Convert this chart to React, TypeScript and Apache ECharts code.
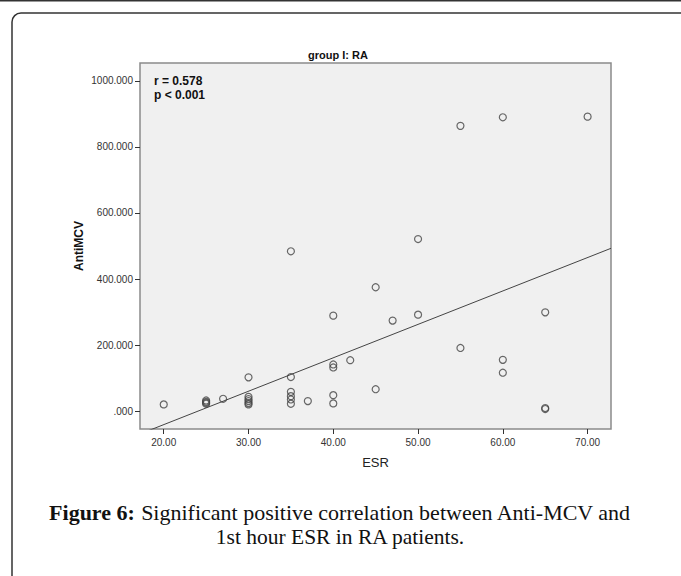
import React, { useEffect, useRef } from "react";
import * as echarts from "echarts";

const esr = [20, 25, 25, 25, 25, 27, 30, 30, 30, 30, 30, 30, 35, 35, 35, 35, 35, 35, 37, 40, 40, 40, 40, 40, 42, 45, 45, 47, 50, 50, 55, 55, 60, 60, 60, 65, 65, 65, 70];
const antiMCV = [20, 32, 28, 25, 22, 37, 102, 43, 36, 30, 24, 20, 484, 103, 58, 45, 35, 22, 30, 289, 141, 132, 48, 23, 154, 375, 66, 274, 521, 292, 864, 191, 890, 155, 116, 299, 9, 6, 892];
const fitLine = [
  [17.2, -69.6],
  [72.76, 493.0],
];
const xTicks = [20, 30, 40, 50, 60, 70];
const yTicks = [0, 200, 400, 600, 800, 1000];
const chartTitle = "group I: RA";
const xName = "ESR";
const yName = "AntiMCV";
const statLines = ["r = 0.578", "p < 0.001"];
const captionBold = "Figure 6:";
const captionLine1 = " Significant positive correlation between Anti-MCV and";
const captionLine2 = "1st hour ESR in RA patients.";

const sans = "'Liberation Sans', Arial, sans-serif";
const serif = "'Liberation Serif', 'Times New Roman', serif";

export default function App() {
  const ref = useRef<HTMLDivElement>(null);
  useEffect(() => {
    if (!ref.current) return;
    const chart = echarts.init(ref.current, undefined, { renderer: "svg" });
    const points = esr.map((x, i) => [x, antiMCV[i]]);
    chart.setOption({
      animation: false,
      backgroundColor: "#ffffff",
      grid: {
        left: 140,
        top: 63,
        right: 70,
        bottom: 147,
        show: true,
        backgroundColor: "#f0f0f0",
        borderColor: "#8a8a8a",
        borderWidth: 1.5,
      },
      xAxis: {
        type: "value",
        min: 17.2,
        max: 72.76,
        name: xName,
        nameLocation: "middle",
        nameGap: 27,
        nameMoveOverlap: false,
        nameTextStyle: { fontFamily: sans, fontSize: 13, color: "#222" },
        axisLine: { show: false, onZero: false },
        splitLine: { show: false },
        axisTick: {
          show: true,
          inside: false,
          length: 5,
          customValues: xTicks,
          lineStyle: { color: "#333", width: 1 },
        },
        axisLabel: {
          customValues: xTicks,
          margin: 8,
          fontFamily: sans,
          fontSize: 10,
          color: "#333",
          formatter: (v: number) => v.toFixed(2),
        },
      },
      yAxis: {
        type: "value",
        min: -54.5,
        max: 1054.5,
        name: yName,
        nameLocation: "middle",
        nameGap: 55,
        nameMoveOverlap: false,
        nameRotate: 90,
        nameTextStyle: { fontFamily: sans, fontSize: 12, fontWeight: "bold", color: "#111" },
        axisLine: { show: false, onZero: false },
        splitLine: { show: false },
        axisTick: {
          show: true,
          inside: false,
          length: 5,
          customValues: yTicks,
          lineStyle: { color: "#333", width: 1 },
        },
        axisLabel: {
          customValues: yTicks,
          margin: 7,
          fontFamily: sans,
          fontSize: 10,
          color: "#333",
          formatter: (v: number) => (v === 0 ? ".000" : v.toFixed(3)),
        },
      },
      series: [
        {
          type: "line",
          data: fitLine,
          showSymbol: false,
          symbol: "none",
          clip: true,
          lineStyle: { color: "#444", width: 1 },
          silent: true,
          z: 2,
        },
        {
          type: "scatter",
          data: points,
          symbol: "circle",
          symbolSize: 7,
          itemStyle: { color: "rgba(0,0,0,0)", borderColor: "#444", borderWidth: 1.2 },
          z: 3,
        },
      ],
      graphic: [
        {
          type: "line",
          shape: { x1: 0, y1: 0.75, x2: 681, y2: 0.75 },
          style: { stroke: "#333", lineWidth: 1.5 },
        },
        {
          type: "rect",
          shape: { x: 12, y: 13, width: 720, height: 620, r: 9 },
          style: { fill: "none", stroke: "#333", lineWidth: 1.5 },
        },
        {
          type: "text",
          x: 338,
          y: 55,
          style: {
            text: chartTitle,
            fontFamily: sans,
            fontSize: 11,
            fontWeight: "bold",
            fill: "#111",
            align: "center",
            verticalAlign: "middle",
          },
        },
        {
          type: "text",
          x: 154,
          y: 81,
          style: {
            text: statLines[0],
            fontFamily: sans,
            fontSize: 12,
            fontWeight: "bold",
            fill: "#111",
            align: "left",
            verticalAlign: "middle",
          },
          z: 10,
        },
        {
          type: "text",
          x: 154,
          y: 95,
          style: {
            text: statLines[1],
            fontFamily: sans,
            fontSize: 12,
            fontWeight: "bold",
            fill: "#111",
            align: "left",
            verticalAlign: "middle",
          },
          z: 10,
        },
        {
          type: "text",
          x: 340,
          y: 512,
          style: {
            text: "{b|" + captionBold + "}{r|" + captionLine1 + "}",
            align: "center",
            verticalAlign: "middle",
            rich: {
              b: { fontFamily: serif, fontSize: 22, fontWeight: "bold", fill: "#111" },
              r: { fontFamily: serif, fontSize: 22, fill: "#111" },
            },
          },
        },
        {
          type: "text",
          x: 340,
          y: 537,
          style: {
            text: captionLine2,
            fontFamily: serif,
            fontSize: 21.5,
            fill: "#111",
            align: "center",
            verticalAlign: "middle",
          },
        },
      ],
    });
    return () => chart.dispose();
  }, []);
  return (
    <div
      ref={ref}
      style={{ position: "fixed", left: 0, top: 0, width: 681, height: 576 }}
    />
  );
}
